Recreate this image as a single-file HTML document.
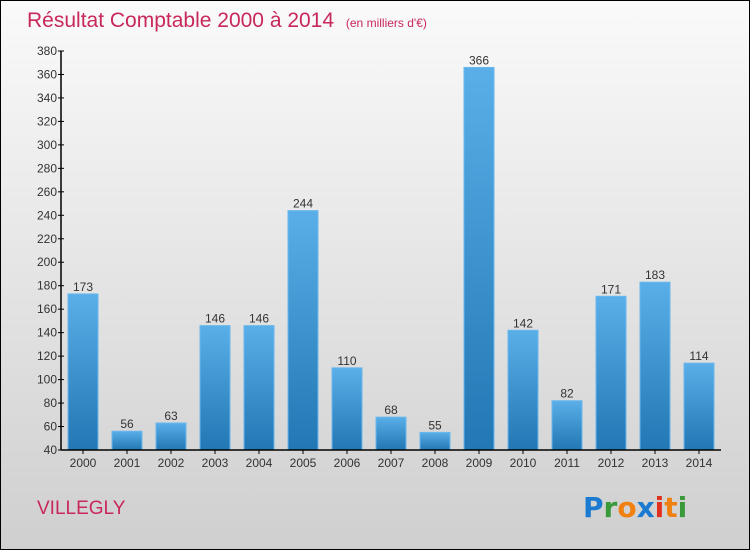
<!DOCTYPE html>
<html><head><meta charset="utf-8"><style>
body{margin:0}
#c{position:relative;width:748px;height:548px;border:1px solid #000;background:linear-gradient(#fafafa,#cfcfcf);overflow:hidden;font-family:"Liberation Sans",sans-serif}
</style></head><body>
<div id="c">
<svg id="s" width="748" height="548" style="position:absolute;left:0;top:0">
<defs><linearGradient id="bg" x1="0" y1="0" x2="0" y2="1"><stop offset="0" stop-color="#5aafe8"/><stop offset="1" stop-color="#2277b4"/></linearGradient></defs>
<text x="26" y="26" font-size="21" fill="#c8285a">Résultat Comptable 2000 à 2014 <tspan font-size="12" dx="6">(en milliers d'€)</tspan></text>
<text x="36" y="513" font-size="19" fill="#c8285a">VILLEGLY</text>
<g font-size="28" font-weight="bold" font-family="'DejaVu Sans',sans-serif">
<text x="582" y="516"><tspan fill="#1a7bd0">P</tspan><tspan fill="#3a9a3a">r</tspan><tspan fill="#f08010">o</tspan><tspan fill="#1a7bd0">x</tspan><tspan fill="#e03020">i</tspan><tspan fill="#f08010">t</tspan><tspan fill="#3a9a3a">i</tspan></text></g>
<g id="g"></g>
</svg>
</div>
<script>
const years=["2000","2001","2002","2003","2004","2005","2006","2007","2008","2009","2010","2011","2012","2013","2014"];
const values=[173,56,63,146,146,244,110,68,55,366,142,82,171,183,114];
const yTicks=[40,60,80,100,120,140,160,180,200,220,240,260,280,300,320,340,360,380];
const yMin=40,yMax=380,y0=449,y1=50,x0=60,band=44,bw=30;
function ys(v){return y0-(v-yMin)*(y0-y1)/(yMax-yMin);}
function xs(i){return x0+band*i+7;}
const g=document.getElementById('g'),NS="http://www.w3.org/2000/svg";
function mk(t,a,txt){const e=document.createElementNS(NS,t);for(const k in a)e.setAttribute(k,a[k]);if(txt!=null)e.textContent=txt;g.appendChild(e);return e;}
values.forEach((v,i)=>{
 const r=mk('rect',{x:xs(i),y:ys(v),width:bw,height:y0-ys(v),fill:'url(#bg)',stroke:'#6ab8ec','stroke-width':1});
 
 
 const t=mk('text',{x:xs(i)+bw/2,y:ys(v)-3,'text-anchor':'middle','font-size':12,fill:'#333'},String(v));
 
 
 const xl=mk('text',{x:xs(i)+bw/2,y:466,'text-anchor':'middle','font-size':12,fill:'#333'},years[i]);
 
 
 const tk=mk('line',{x1:xs(i)+bw/2,x2:xs(i)+bw/2,y1:y0,y2:y0+4,stroke:'#000'});
 
 
});
yTicks.forEach(v=>{
 const l=mk('line',{x1:x0-3,x2:x0+3,y1:ys(v),y2:ys(v),stroke:'#000'});
 
 
 const t=mk('text',{x:x0-4,y:ys(v)+4,'text-anchor':'end','font-size':12,fill:'#333'},String(v));
 
 
});
const ya=mk('line',{x1:x0,x2:x0,y1:y1,y2:y0,stroke:'#000','stroke-width':1.5});


const xa=mk('line',{x1:x0,x2:720,y1:y0,y2:y0,stroke:'#000','stroke-width':1.5});


</script>
</body></html>
